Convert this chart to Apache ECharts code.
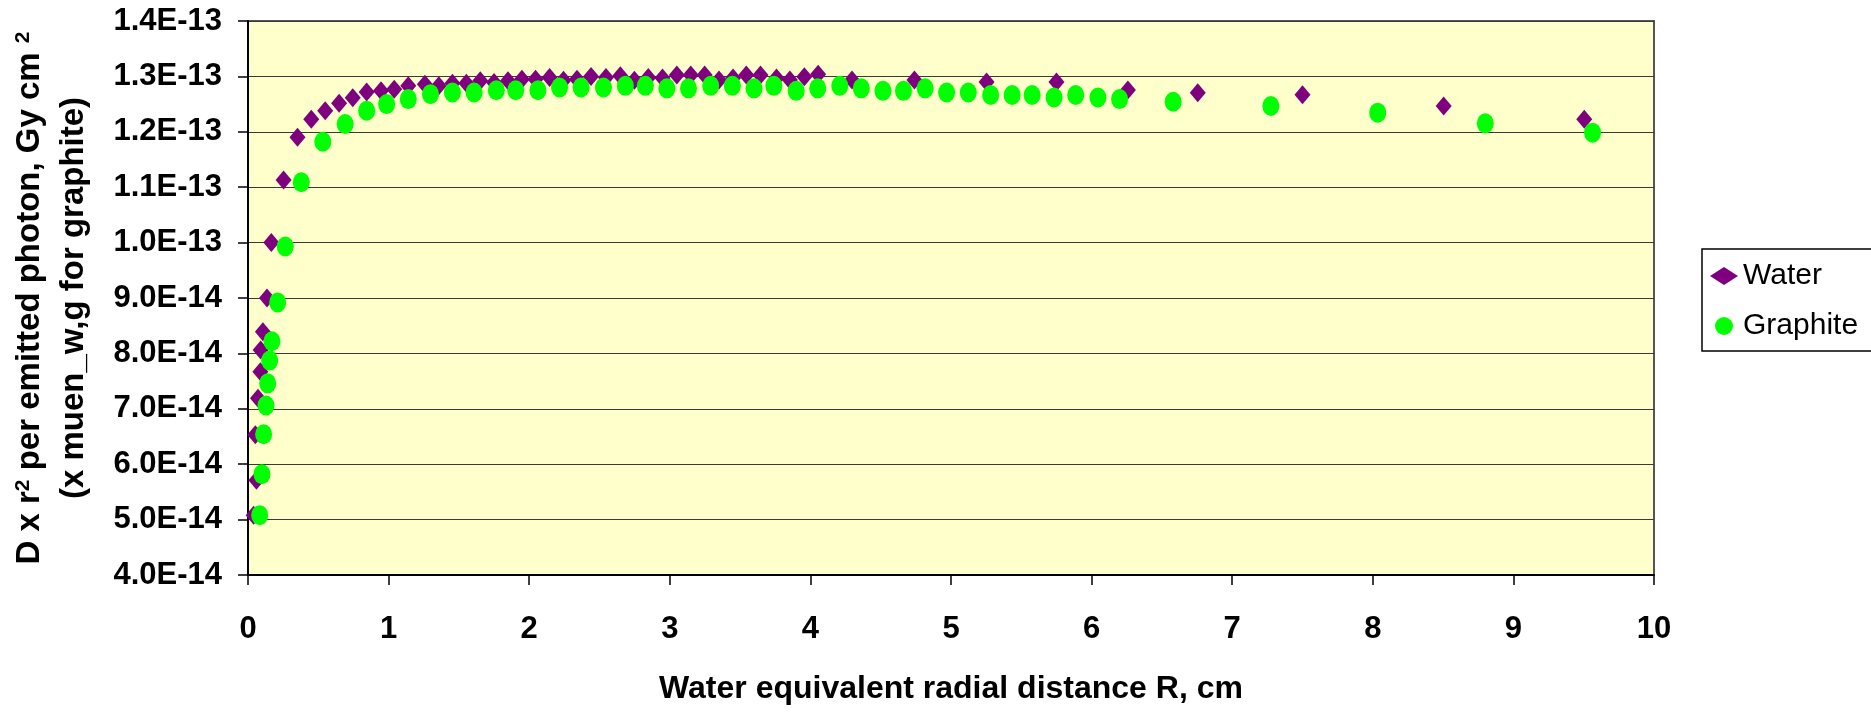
<!DOCTYPE html>
<html>
<head>
<meta charset="utf-8">
<script src="https://cdn.jsdelivr.net/npm/echarts@6/dist/echarts.min.js"></script>
<style>
html,body{margin:0;padding:0;background:#fff;}
#c{width:1871px;height:713px;}
</style>
</head>
<body>
<div id="c"></div>
<script>
// Values of the dose axis are in units of 1E-13 Gy cm^2
const waterR = [0.040,0.060,0.052,0.071,0.088,0.090,0.106,0.135,0.166,0.253,0.352,0.450,0.549,0.648,0.745,0.844,0.946,1.04,1.14,1.258,1.357,1.454,1.553,1.652,1.75,1.849,1.948,2.045,2.145,2.244,2.34,2.44,2.546,2.648,2.748,2.847,2.948,3.05,3.149,3.248,3.35,3.45,3.544,3.645,3.759,3.854,3.957,4.055,4.296,4.74,5.253,5.75,6.258,6.755,7.5,8.504,9.504];
const waterD = [0.508,0.571,0.653,0.719,0.767,0.806,0.839,0.900,1.000,1.113,1.190,1.2226,1.238,1.2514,1.2616,1.272,1.274,1.277,1.283,1.286,1.283,1.2875,1.2875,1.292,1.289,1.292,1.295,1.295,1.298,1.293,1.295,1.300,1.298,1.301,1.293,1.298,1.297,1.3025,1.3025,1.3025,1.2935,1.297,1.3025,1.3025,1.297,1.2935,1.2995,1.3038,1.2935,1.2935,1.290,1.290,1.2755,1.2706,1.267,1.2466,1.2226];
const graphiteR = [0.083,0.099,0.111,0.128,0.140,0.154,0.170,0.211,0.265,0.379,0.532,0.691,0.844,0.986,1.14,1.298,1.454,1.608,1.766,1.904,2.062,2.216,2.369,2.528,2.684,2.826,2.979,3.133,3.291,3.445,3.599,3.74,3.899,4.052,4.209,4.362,4.516,4.662,4.816,4.969,5.123,5.282,5.435,5.577,5.733,5.887,6.045,6.199,6.58,7.275,8.035,8.8,9.563];
const graphiteD = [0.508,0.582,0.654,0.706,0.746,0.787,0.822,0.892,0.993,1.109,1.182,1.214,1.238,1.250,1.259,1.268,1.271,1.271,1.275,1.275,1.275,1.280,1.280,1.280,1.283,1.283,1.2785,1.2785,1.283,1.283,1.2785,1.283,1.274,1.2785,1.283,1.2785,1.274,1.274,1.2785,1.271,1.271,1.2665,1.2665,1.2665,1.262,1.2665,1.262,1.259,1.2543,1.2466,1.2345,1.2153,1.1984];
const seriesNames = ['Water', 'Graphite'];
const xTitle = 'Water equivalent radial distance R, cm';
const yTitleLine1 = ['D x r', '2', ' per emitted photon, Gy cm ', '2'];
const yTitleLine2 = '(x muen_w,g for graphite)';

const FONT = 'Liberation Sans, Arial, sans-serif';
const pairs = (xs, ys) => xs.map((x, i) => [x, ys[i]]);
const ellipse = 'path://M0 1A1 1 0 1 1 2 1A1 1 0 1 1 0 1Z';

const yName = '{m|' + yTitleLine1[0] + '}{s|' + yTitleLine1[1] + '}{m|' + yTitleLine1[2] + '}{s|' + yTitleLine1[3] + '}\n{m|' + yTitleLine2 + '}';

const chart = echarts.init(document.getElementById('c'), null, {renderer: 'canvas'});
chart.setOption({
  animation: false,
  backgroundColor: '#ffffff',
  textStyle: {fontFamily: FONT},
  grid: {
    left: 244, right: 217, top: 21, bottom: 138,
    show: true, backgroundColor: '#FFFFCC', borderColor: '#555555', borderWidth: 2
  },
  legend: {
    orient: 'vertical',
    left: 1702, top: 249,
    padding: [12, 16, 10, 8],
    itemGap: 20,
    itemWidth: 28, itemHeight: 18,
    backgroundColor: '#ffffff',
    borderColor: '#000000', borderWidth: 1.5,
    textStyle: {fontFamily: FONT, fontSize: 30, color: '#000'},
    data: seriesNames
  },
  xAxis: {
    type: 'value', min: 0, max: 10, interval: 1,
    name: xTitle, nameLocation: 'middle', nameGap: 98,
    nameTextStyle: {fontFamily: FONT, fontSize: 32, fontWeight: 'bold', color: '#000'},
    axisLine: {show: true, onZero: false, lineStyle: {color: '#000', width: 2}},
    axisTick: {show: true, inside: false, length: 10, lineStyle: {color: '#000', width: 1.5}},
    axisLabel: {fontFamily: FONT, fontSize: 31, fontWeight: 'bold', color: '#000', margin: 39},
    splitLine: {show: false}
  },
  yAxis: {
    type: 'value', min: 0.4, max: 1.4, interval: 0.1,
    name: yName, nameLocation: 'middle', nameRotate: 90, nameGap: 152,
    nameTextStyle: {
      fontFamily: FONT, color: '#000', align: 'center',
      rich: {
        m: {fontFamily: FONT, fontSize: 33, fontWeight: 'bold', color: '#000', lineHeight: 44},
        s: {fontFamily: FONT, fontSize: 21, fontWeight: 'bold', color: '#000', lineHeight: 44, verticalAlign: 'top', padding: [5, 0, 0, 0]}
      }
    },
    axisLine: {show: true, onZero: false, lineStyle: {color: '#000', width: 2}},
    axisTick: {show: true, inside: false, length: 10, lineStyle: {color: '#000', width: 1.5}},
    axisLabel: {
      fontFamily: FONT, fontSize: 31, fontWeight: 'bold', color: '#000', margin: 26,
      formatter: v => (v * 1e-13).toExponential(1).toUpperCase()
    },
    splitLine: {show: true, lineStyle: {color: '#3a3a3a', width: 1.2}}
  },
  series: [
    {
      name: seriesNames[0], type: 'scatter',
      data: pairs(waterR, waterD),
      symbol: 'diamond', symbolSize: [16, 19],
      itemStyle: {color: '#7F007F', opacity: 1},
      z: 2
    },
    {
      name: seriesNames[1], type: 'scatter',
      data: pairs(graphiteR, graphiteD),
      symbol: ellipse, symbolSize: [17, 20],
      itemStyle: {color: '#00FF00', opacity: 1},
      z: 3
    }
  ]
});
</script>
</body>
</html>
